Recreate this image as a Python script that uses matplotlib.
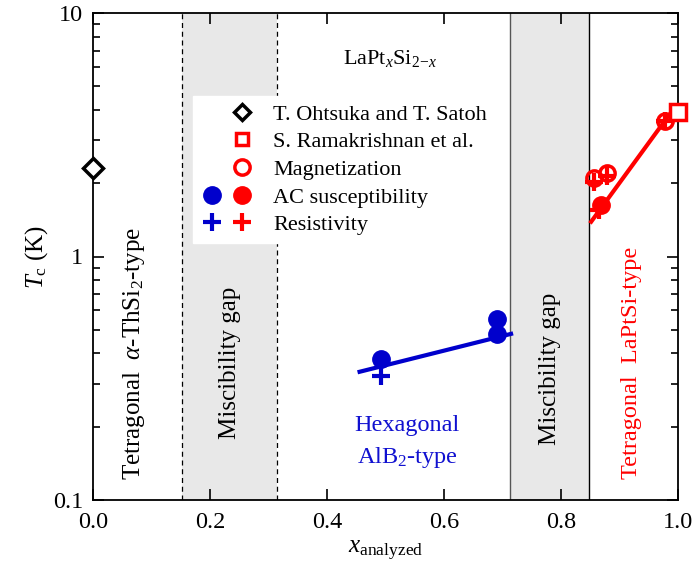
import matplotlib
matplotlib.use("Agg")
import matplotlib.pyplot as plt
from matplotlib.lines import Line2D
from matplotlib.legend_handler import HandlerTuple
from matplotlib.ticker import LogLocator, NullFormatter, FixedLocator

plt.rcParams['font.family'] = ['Liberation Serif', 'DejaVu Serif']
plt.rcParams['mathtext.fontset'] = 'custom'
plt.rcParams['mathtext.rm'] = 'Liberation Serif'
plt.rcParams['mathtext.it'] = 'Liberation Serif:italic'

BLUE = '#0000CC'
RED = '#FF0000'

# Literature values
ohtsuka_x = [0.0]
ohtsuka_tc = [2.31]
rama_x = [1.0]
rama_tc = [3.92]

# Hexagonal AlB2-type samples
blue_ac_x = [0.493, 0.691, 0.691]
blue_ac_tc = [0.379, 0.554, 0.481]
blue_res_x = [0.493]
blue_res_tc = [0.322]
blue_fit_x = [0.456, 0.715]
blue_fit_tc = [0.336, 0.481]

# Tetragonal LaPtSi-type samples
red_mag_x = [0.857, 0.879, 0.978]
red_mag_tc = [2.10, 2.20, 3.60]
red_ac_x = [0.869]
red_ac_tc = [1.63]
red_res_x = [0.857, 0.879, 0.866, 0.978]
red_res_tc = [2.02, 2.14, 1.55, 3.62]
red_fit_x = [0.852, 0.985]
red_fit_tc = [1.39, 3.81]

# Two-phase regions
gap1 = (0.152, 0.315)
gap2 = (0.713, 0.848)

fig = plt.figure(figsize=(6.93, 5.70), dpi=100)
ax = fig.add_axes([0.134, 0.123, 0.844, 0.854])

ax.set_yscale('log')
ax.set_xlim(0.0, 1.0)
ax.set_ylim(0.1, 10)

ax.axvspan(*gap1, color='#E8E8E8', zorder=0, lw=0)
ax.axvspan(*gap2, color='#E8E8E8', zorder=0, lw=0)
for xv in gap1:
    ax.axvline(xv, color='black', lw=0.9, ls=(0, (4, 3)), zorder=0.5)
ax.axvline(gap2[0], color='#555555', lw=1.0, zorder=0.5)
ax.axvline(gap2[1], color='black', lw=1.0, zorder=0.5)

# fitted trends
ax.plot(blue_fit_x, blue_fit_tc, color=BLUE, lw=3, zorder=2)
ax.plot(red_fit_x, red_fit_tc, color=RED, lw=3, zorder=2)

# data points
ax.plot(ohtsuka_x, ohtsuka_tc, ls='none', marker='D', ms=10, mfc='white',
        mec='black', mew=2.5, clip_on=False, zorder=5)
ax.plot(rama_x, rama_tc, ls='none', marker='s', ms=11, mfc='white',
        mec=RED, mew=2.5, clip_on=False, zorder=5)
ax.plot(blue_ac_x, blue_ac_tc, ls='none', marker='o', ms=12.5, color=BLUE, zorder=4)
ax.plot(blue_res_x, blue_res_tc, ls='none', marker='+', ms=13, mew=3, color=BLUE, zorder=4)
ax.plot(red_mag_x, red_mag_tc, ls='none', marker='o', ms=11, mfc='none',
        mec=RED, mew=2.5, zorder=4)
ax.plot(red_ac_x, red_ac_tc, ls='none', marker='o', ms=12.5, color=RED, zorder=4)
ax.plot(red_res_x, red_res_tc, ls='none', marker='+', ms=13, mew=3, color=RED, zorder=4)

# annotations
ax.text(0.070, 0.40, r'Tetragonal  $\alpha$-ThSi$_2$-type', rotation=90,
        ha='center', va='center', fontsize=18)
ax.text(0.235, 0.365, 'Miscibility gap', rotation=90, ha='center', va='center', fontsize=18)
ax.text(0.782, 0.345, 'Miscibility gap', rotation=90, ha='center', va='center', fontsize=18)
ax.text(0.921, 0.365, 'Tetragonal  LaPtSi-type', rotation=90, ha='center',
        va='center', fontsize=17.5, color=RED)
ax.text(0.5375, 0.172, 'Hexagonal\nAlB$_2$-type', ha='center', va='center',
        fontsize=17.5, color='#1010D0', linespacing=1.5)
ax.text(0.5085, 6.5, r'LaPt$_x$Si$_{2\!-\!x}$', ha='center', va='center', fontsize=16)

ax.set_xlabel(r'$x_{\rm analyzed}$', fontsize=18, labelpad=4)
ax.set_ylabel(r'$T_{\rm c}$ (K)', fontsize=18, labelpad=2)

ax.xaxis.set_major_locator(FixedLocator([0.0, 0.2, 0.4, 0.6, 0.8, 1.0]))
ax.set_xticklabels(['0.0', '0.2', '0.4', '0.6', '0.8', '1.0'])
ax.yaxis.set_major_locator(FixedLocator([0.1, 1, 10]))
ax.set_yticklabels(['0.1', '1', '10'])
ax.yaxis.set_minor_locator(LogLocator(base=10, subs=range(2, 10)))
ax.yaxis.set_minor_formatter(NullFormatter())
ax.tick_params(which='both', direction='in', top=True, right=True, labelsize=17.5, width=1.2)
ax.tick_params(which='major', length=8)
ax.tick_params(which='minor', length=5)
ax.tick_params(axis='x', which='major', pad=9)
ax.tick_params(axis='y', which='major', pad=7)
for sp in ax.spines.values():
    sp.set_linewidth(1.3)

# legend with two marker columns
blank = Line2D([], [], ls='none', marker='')
h_oht = Line2D([], [], ls='none', marker='D', ms=8.5, mfc='white', mec='black', mew=2.5)
h_rama = Line2D([], [], ls='none', marker='s', ms=8, mfc='white', mec=RED, mew=2.5)
h_mag = Line2D([], [], ls='none', marker='o', ms=11, mfc='none', mec=RED, mew=2.5)
h_acb = Line2D([], [], ls='none', marker='o', ms=12.5, color=BLUE)
h_acr = Line2D([], [], ls='none', marker='o', ms=12.5, color=RED)
h_rb = Line2D([], [], ls='none', marker='+', ms=13, mew=3, color=BLUE)
h_rr = Line2D([], [], ls='none', marker='+', ms=13, mew=3, color=RED)

leg = ax.legend([(blank, h_oht), (blank, h_rama), (blank, h_mag), (h_acb, h_acr), (h_rb, h_rr)],
                ['T. Ohtsuka and T. Satoh', 'S. Ramakrishnan et al.', 'Magnetization',
                 'AC susceptibility', 'Resistivity'],
                handler_map={tuple: HandlerTuple(ndivide=None, pad=0.3)},
                loc='upper left', bbox_to_anchor=(0.152, 0.852), fontsize=16,
                frameon=True, fancybox=False, framealpha=1, edgecolor='white',
                handlelength=2.4, handletextpad=0.85, labelspacing=0.32, borderpad=0.35)

fig.savefig('out.png', dpi=100)
